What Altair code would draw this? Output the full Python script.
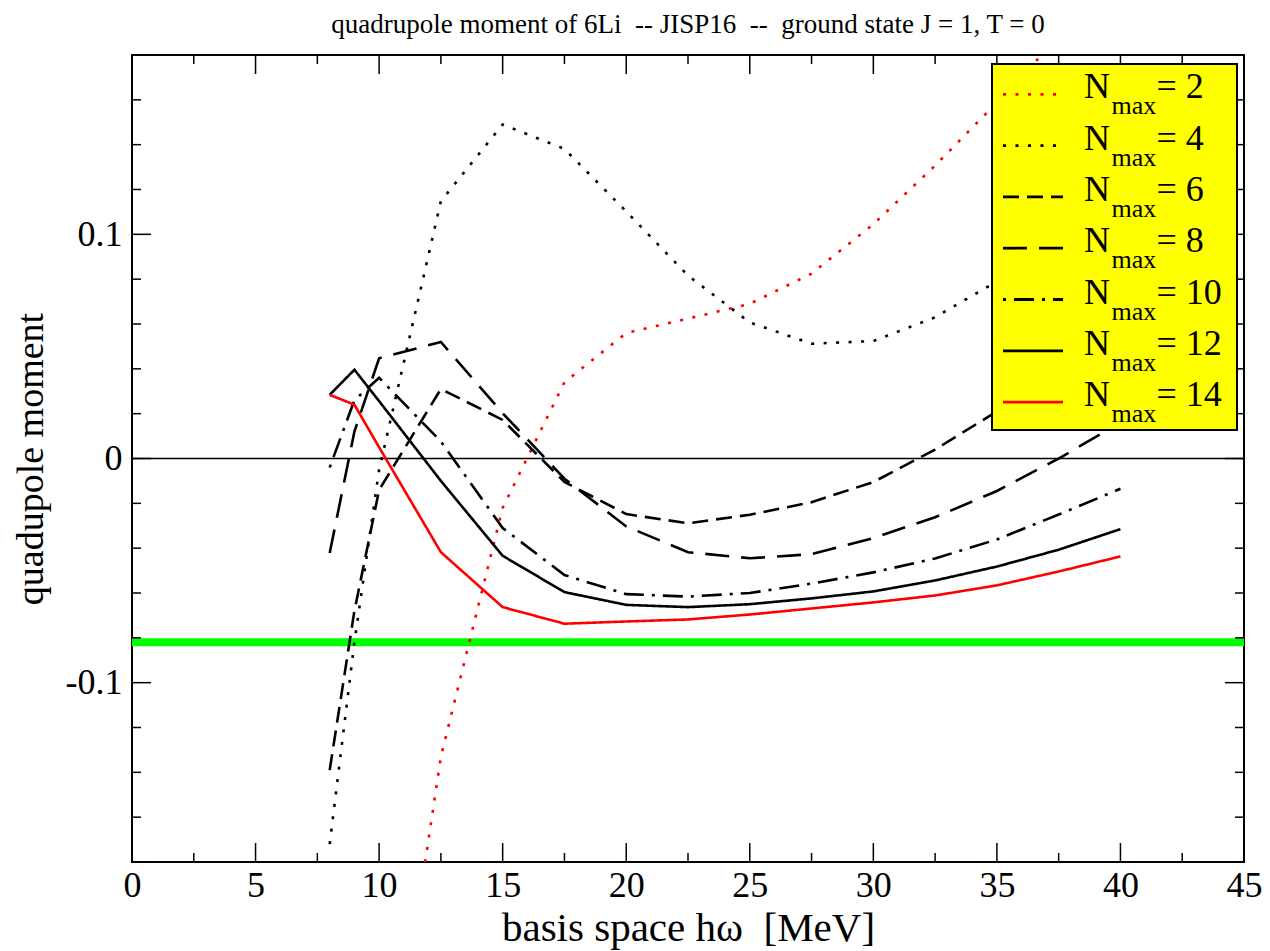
import altair as alt
import pandas as pd

# ---------------- data ----------------
hw = [8, 9, 10, 12.5, 15, 17.5, 20, 22.5, 25, 27.5, 30, 32.5, 35, 37.5, 40]
q_nmax2 = [None, None, -0.318, -0.133, -0.022, 0.034, 0.056, 0.0624, 0.069, 0.0825, 0.1045, 0.1307, 0.1588, 0.188, 0.22]
q_nmax4 = [-0.172, -0.082, -0.005, 0.1148, 0.149, 0.1381, 0.1102, 0.0816, 0.0607, 0.0512, 0.0524, 0.063, 0.079, 0.099, 0.122]
q_nmax6 = [-0.139, -0.068, -0.014, 0.031, 0.0172, -0.0105, -0.0248, -0.0289, -0.0251, -0.0195, -0.0105, 0.004, 0.021, 0.041, 0.064]
q_nmax8 = [-0.0422, 0.012, 0.0447, 0.052, 0.0202, -0.009, -0.0303, -0.0418, -0.0445, -0.0427, -0.0355, -0.0262, -0.0145, 0.0, 0.016]
q_nmax10 = [-0.004, 0.026, 0.036, 0.0076, -0.031, -0.052, -0.0605, -0.0616, -0.060, -0.0558, -0.0508, -0.0446, -0.0361, -0.025, -0.0135]
q_nmax12 = [0.0284, 0.0396, 0.0256, -0.010, -0.0434, -0.0596, -0.0653, -0.0663, -0.065, -0.0624, -0.0593, -0.0544, -0.0482, -0.0407, -0.0315]
q_nmax14 = [0.0284, 0.024, 0.005, -0.0418, -0.0663, -0.0737, -0.0727, -0.0718, -0.0696, -0.0669, -0.0642, -0.0611, -0.0566, -0.0504, -0.0437]

nmax_values = [2, 4, 6, 8, 10, 12, 14]
series = [q_nmax2, q_nmax4, q_nmax6, q_nmax8, q_nmax10, q_nmax12, q_nmax14]
experiment = [-0.082]
zero_level = [0.0]

x_major = [0, 5, 10, 15, 20, 25, 30, 35, 40, 45]
x_minor = [2.5, 7.5, 12.5, 17.5, 22.5, 27.5, 32.5, 37.5, 42.5]
y_major = [-0.1, 0.0, 0.1]
y_minor = [-0.16, -0.14, -0.12, -0.08, -0.06, -0.04, -0.02, 0.02, 0.04, 0.06, 0.08, 0.12, 0.14, 0.16]

title_text = "quadrupole moment of 6Li\u00a0 -- JISP16\u00a0 --\u00a0 ground state J = 1, T = 0"
x_title = "basis space h\u03c9\u00a0 [MeV]"
y_title = "quadupole moment"

# ---------------- styles ----------------
colors = ["#ff0000", "#000000", "#000000", "#000000", "#000000", "#000000", "#ff0000"]
dashes = [[3, 9.5], [3, 9.5], [16, 8], [24, 12], [3, 8, 20, 8], [1, 0], [1, 0]]
FONT = "'Liberation Serif', 'Times New Roman', Times, 'DejaVu Serif', serif"
W, H = 1112, 807

rows = []
for n, vals in zip(nmax_values, series):
    for x, v in zip(hw, vals):
        if v is not None:
            rows.append({"hw": x, "q": v, "nmax": f"N{n}"})
df = pd.DataFrame(rows)
labels = [f"N{n}" for n in nmax_values]

xscale = alt.Scale(domain=[0, 45], nice=False, zero=False)
yscale = alt.Scale(domain=[-0.18, 0.18], nice=False, zero=False)

x_axis = alt.Axis(values=x_major, ticks=False, domain=False, grid=False,
                  labelFont=FONT, labelFontSize=36, labelColor="black", labelPadding=6,
                  labelFlush=False, title=x_title, titleFont=FONT, titleFontSize=41,
                  titleFontWeight="normal", titleColor="black", titleX=W / 2, titleY=78,
                  titleBaseline="alphabetic", titleAlign="center")
y_axis = alt.Axis(values=y_major, ticks=False, domain=False, grid=False,
                  labelExpr="'' + datum.value", labelFont=FONT, labelFontSize=36,
                  labelColor="black", labelPadding=10, labelFlush=False,
                  title=y_title, titleFont=FONT, titleFontSize=38, titleFontWeight="normal",
                  titleColor="black", titleX=-90, titleY=H / 2, titleAngle=270,
                  titleBaseline="alphabetic", titleAlign="center")

lines = alt.Chart(df).mark_line(clip=True, strokeWidth=2.6, strokeCap="butt").encode(
    x=alt.X("hw:Q", scale=xscale, axis=x_axis),
    y=alt.Y("q:Q", scale=yscale, axis=y_axis),
    color=alt.Color("nmax:N", scale=alt.Scale(domain=labels, range=colors), legend=None),
    strokeDash=alt.StrokeDash("nmax:N", scale=alt.Scale(domain=labels, range=dashes), legend=None),
)

green = alt.Chart(pd.DataFrame({"q": experiment})).mark_rule(
    color="#00ff00", strokeWidth=8).encode(
    y=alt.Y("q:Q", scale=yscale, axis=y_axis))

zero = alt.Chart(pd.DataFrame({"q": zero_level})).mark_rule(
    color="black", strokeWidth=1.3).encode(
    y=alt.Y("q:Q", scale=yscale, axis=y_axis))

layers = [green, zero, lines]

# ticks on all four sides (pointing inward)
def xticks(vals, length, top):
    y0, y1 = (0, length) if top else (H, H - length)
    return alt.Chart(pd.DataFrame({"hw": vals})).mark_rule(color="black", strokeWidth=1.5).encode(
        x=alt.X("hw:Q", scale=xscale, axis=x_axis), y=alt.value(y0), y2=alt.value(y1))

def yticks(vals, length, right):
    x0, x1 = (W, W - length) if right else (0, length)
    return alt.Chart(pd.DataFrame({"q": vals})).mark_rule(color="black", strokeWidth=1.5).encode(
        y=alt.Y("q:Q", scale=yscale, axis=y_axis), x=alt.value(x0), x2=alt.value(x1))

for top in (False, True):
    layers.append(xticks(x_major, 19, top))
    layers.append(xticks(x_minor, 9, top))
for right in (False, True):
    layers.append(yticks(y_major, 19, right))
    layers.append(yticks(y_minor, 9, right))

# title
layers.append(alt.Chart(pd.DataFrame({"t": [title_text]})).mark_text(
    font=FONT, fontSize=27, color="black", align="center", baseline="alphabetic").encode(
    text="t:N", x=alt.value(W / 2), y=alt.value(-22)))

# legend box
LX0, LX1, LY0, LY1 = 860, 1105, 9, 375
layers.append(alt.Chart(pd.DataFrame({"a": [0]})).mark_rect(
    fill="#ffff00", stroke="black", strokeWidth=2).encode(
    x=alt.value(LX0), x2=alt.value(LX1), y=alt.value(LY0), y2=alt.value(LY1)))

ROW = 51.3
for i, n in enumerate(nmax_values):
    ysym = 39.3 + ROW * i
    ybase = 43.3 + ROW * i
    layers.append(alt.Chart(pd.DataFrame({"a": [0]})).mark_rule(
        color=colors[i], strokeDash=dashes[i], strokeWidth=2.8, strokeCap="butt").encode(
        x=alt.value(871), x2=alt.value(931), y=alt.value(ysym)))
    lab = pd.DataFrame({"n": ["N"], "s": ["max"], "e": [f"= {n}"]})
    layers.append(alt.Chart(lab).mark_text(font=FONT, fontSize=36, color="black",
                                           align="left", baseline="alphabetic").encode(
        text="n:N", x=alt.value(952), y=alt.value(ybase)))
    layers.append(alt.Chart(lab).mark_text(font=FONT, fontSize=26, color="black",
                                           align="left", baseline="alphabetic").encode(
        text="s:N", x=alt.value(979.5), y=alt.value(ybase + 16)))
    layers.append(alt.Chart(lab).mark_text(font=FONT, fontSize=36, color="black",
                                           align="left", baseline="alphabetic").encode(
        text="e:N", x=alt.value(1024.5), y=alt.value(ybase)))

chart = alt.layer(*layers).properties(
    width=W, height=H,
    autosize=alt.AutoSizeParams(type="none"),
    padding={"left": 124, "top": 47, "right": 18, "bottom": 88},
    background="white",
).configure_view(stroke="black", strokeWidth=2)

chart.save("out.html", embed_options={"renderer": "svg", "actions": False})
